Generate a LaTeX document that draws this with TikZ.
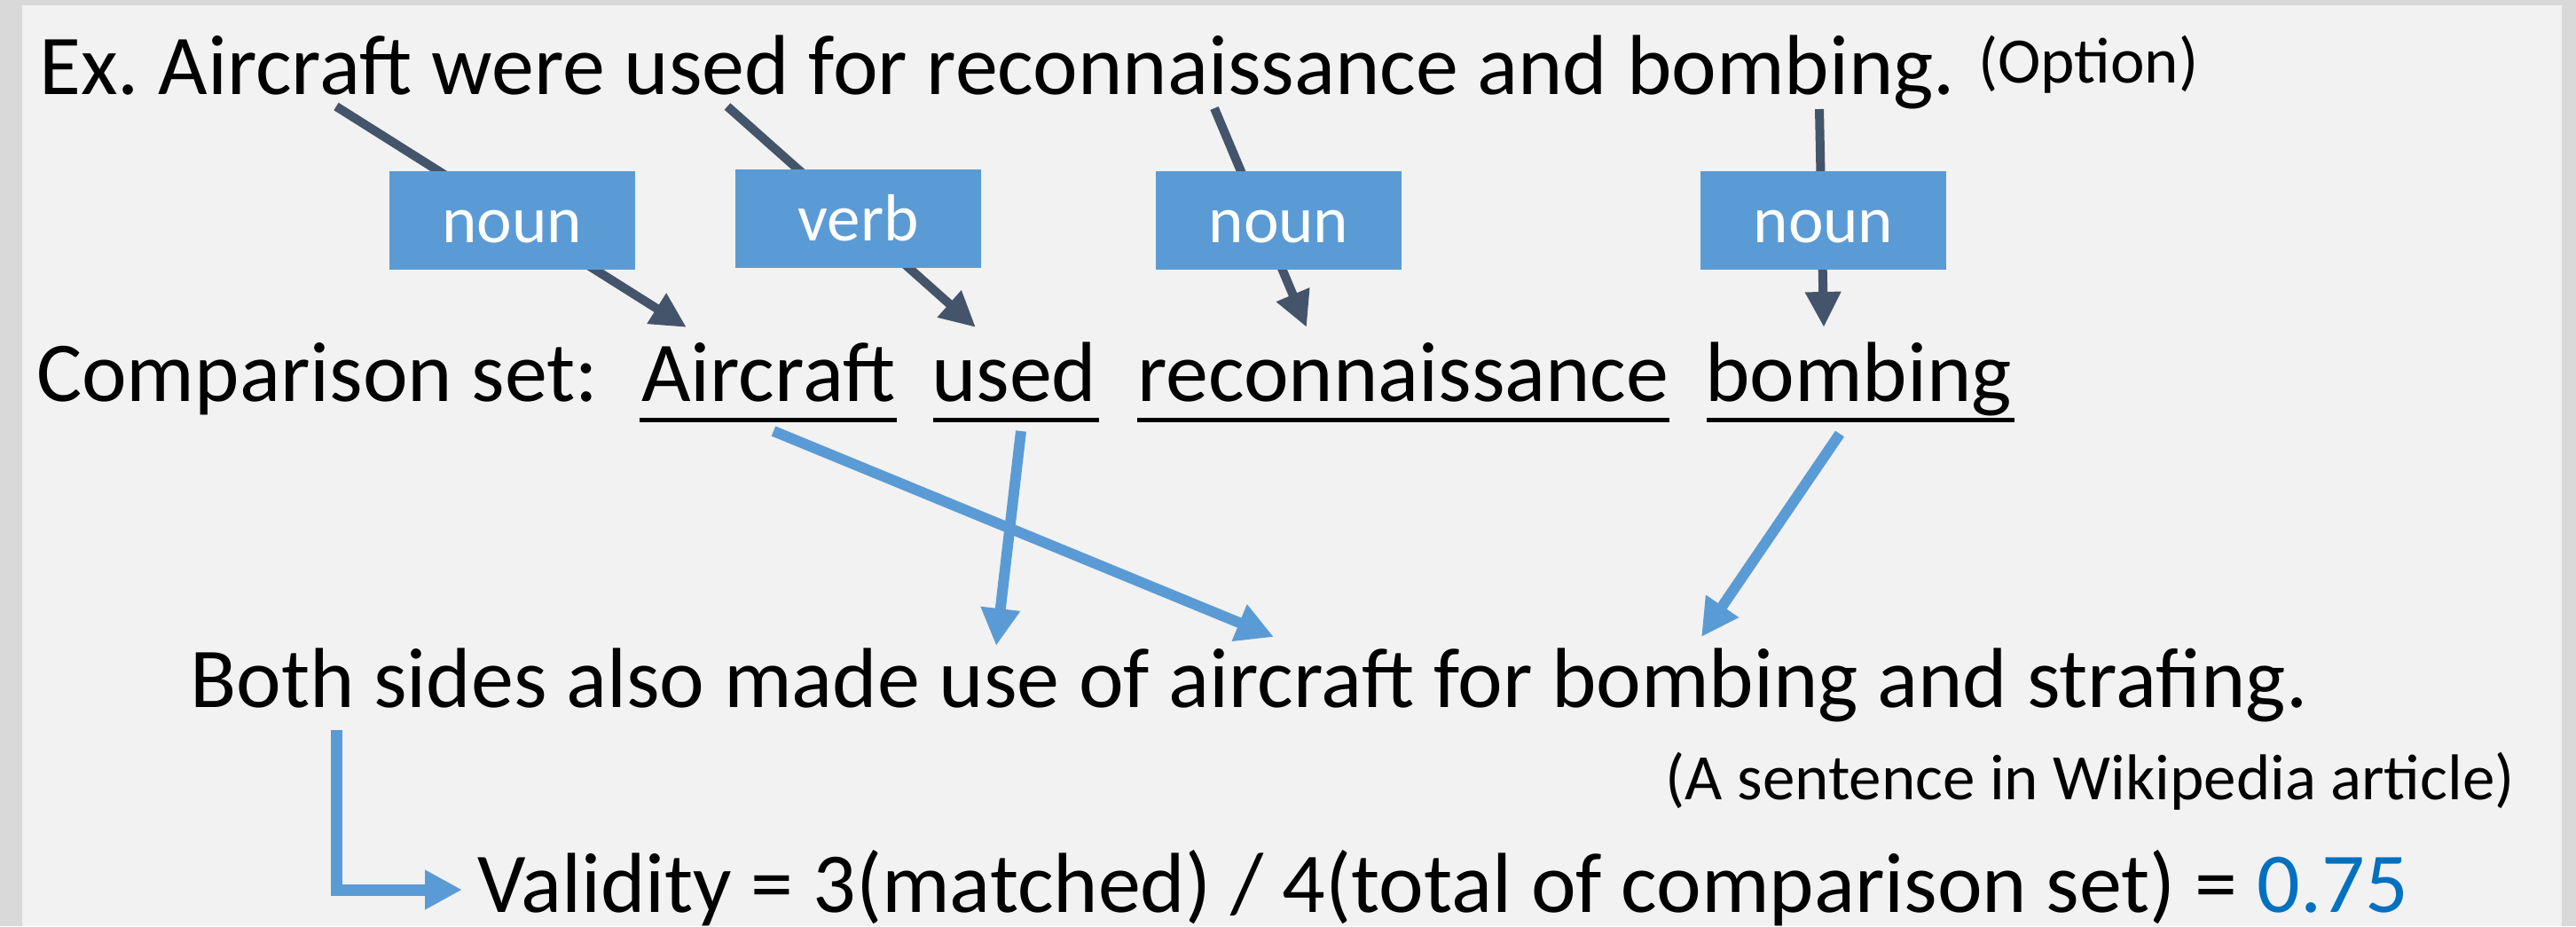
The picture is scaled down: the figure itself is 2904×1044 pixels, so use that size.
\documentclass[tikz,border=0pt]{standalone}
\usepackage{fontspec}
\setmainfont{Carlito}
\frenchspacing
\usetikzlibrary{arrows.meta,calc}
\definecolor{framegrey}{HTML}{D9D9D9}
\definecolor{panelgrey}{HTML}{F2F2F2}
\definecolor{boxblue}{HTML}{5B9BD5}
\definecolor{darkslate}{HTML}{44546A}
\definecolor{valblue}{HTML}{0070C0}
\tikzset{
  bigtxt/.style={inner sep=0pt, anchor=base west, font=\fontsize{96}{116}\selectfont},
  smalltxt/.style={inner sep=0pt, font=\fontsize{73}{88}\selectfont},
  posbox/.style={fill=boxblue, text=white, inner sep=0pt, minimum width=277pt, minimum height=111pt,
    text height=62pt, text depth=13pt, font=\fontsize{75}{90}\selectfont},
  uline/.style={line width=5pt, black},
  darkarrow/.style={draw=darkslate, line width=10pt, -{Triangle[length=40pt,width=38pt]}},
  bluearrow/.style={draw=boxblue, line width=12pt, -{Triangle[length=42pt,width=42pt]}}
}
\begin{document}
\begin{tikzpicture}[x=1pt,y=-1pt]
\useasboundingbox (0,0) rectangle (2904,1044);
\fill[framegrey] (0,0) rectangle (2904,1044);
\fill[panelgrey] (25,6) rectangle (2888,1044);

% first line
\node[bigtxt] (ex) at (44,106) {Ex. Aircraft were used for reconnaissance and bombing.};
\node[smalltxt, anchor=base west] (opt) at (2230,93) {(Option)};

% comparison set
\node[bigtxt] (cs) at (41,452) {Comparison set:};
\node[bigtxt] (w1) at (723,452) {Aircraft};
\node[bigtxt] (w2) at (1050,452) {used};
\node[bigtxt] (w3) at (1282,452) {reconnaissance};
\node[bigtxt] (w4) at (1922,452) {bombing};
\draw[uline] (721,473) -- (1011,473);
\draw[uline] (1052,473) -- (1239,473);
\draw[uline] (1282,473) -- (1882,473);
\draw[uline] (1924,473) -- (2271,473);

% dark arrows (word -> part of speech -> comparison word)
\coordinate (s1) at (379,120);  \coordinate (t1) at (774,369);
\coordinate (s2) at (820,120);  \coordinate (t2) at (1100,369);
\coordinate (s3) at (1369,122); \coordinate (t3) at (1473,369);
\coordinate (s4) at (2051,123); \coordinate (t4) at (2056,369);
\draw[darkarrow] (s1) -- (t1);
\draw[darkarrow] (s2) -- (t2);
\draw[darkarrow] (s3) -- (t3);
\draw[darkarrow] (s4) -- (t4);

\node[posbox] (b1) at (577.5,248.5) {noun};
\node[posbox] (b2) at (967.5,246.5) {verb};
\node[posbox] (b3) at (1441.5,248.5) {noun};
\node[posbox] (b4) at (2055.5,248.5) {noun};

% wikipedia sentence
\node[bigtxt] (sent) at (214,797) {Both sides also made use of aircraft for bombing and strafing.};
\node[smalltxt, anchor=base east] (src) at (2835,901) {(A sentence in Wikipedia article)};

% blue arrows
\coordinate (u1) at (872,486);  \coordinate (v1) at (1436,718);
\coordinate (u2) at (1151,486); \coordinate (v2) at (1123,728);
\coordinate (u4) at (2074,489); \coordinate (v4) at (1918,718);
\draw[bluearrow] (u1) -- (v1);
\draw[bluearrow] (u2) -- (v2);
\draw[bluearrow] (u4) -- (v4);

% validity
\node[bigtxt] (val) at (538,1028) {Validity = 3(matched) / 4(total of comparison set) = \textcolor{valblue}{0.75}};
\coordinate (e0) at (379,823);
\coordinate (e1) at (521,1003);
\draw[bluearrow, line width=13pt] (e0) |- (e1);
\end{tikzpicture}
\end{document}
